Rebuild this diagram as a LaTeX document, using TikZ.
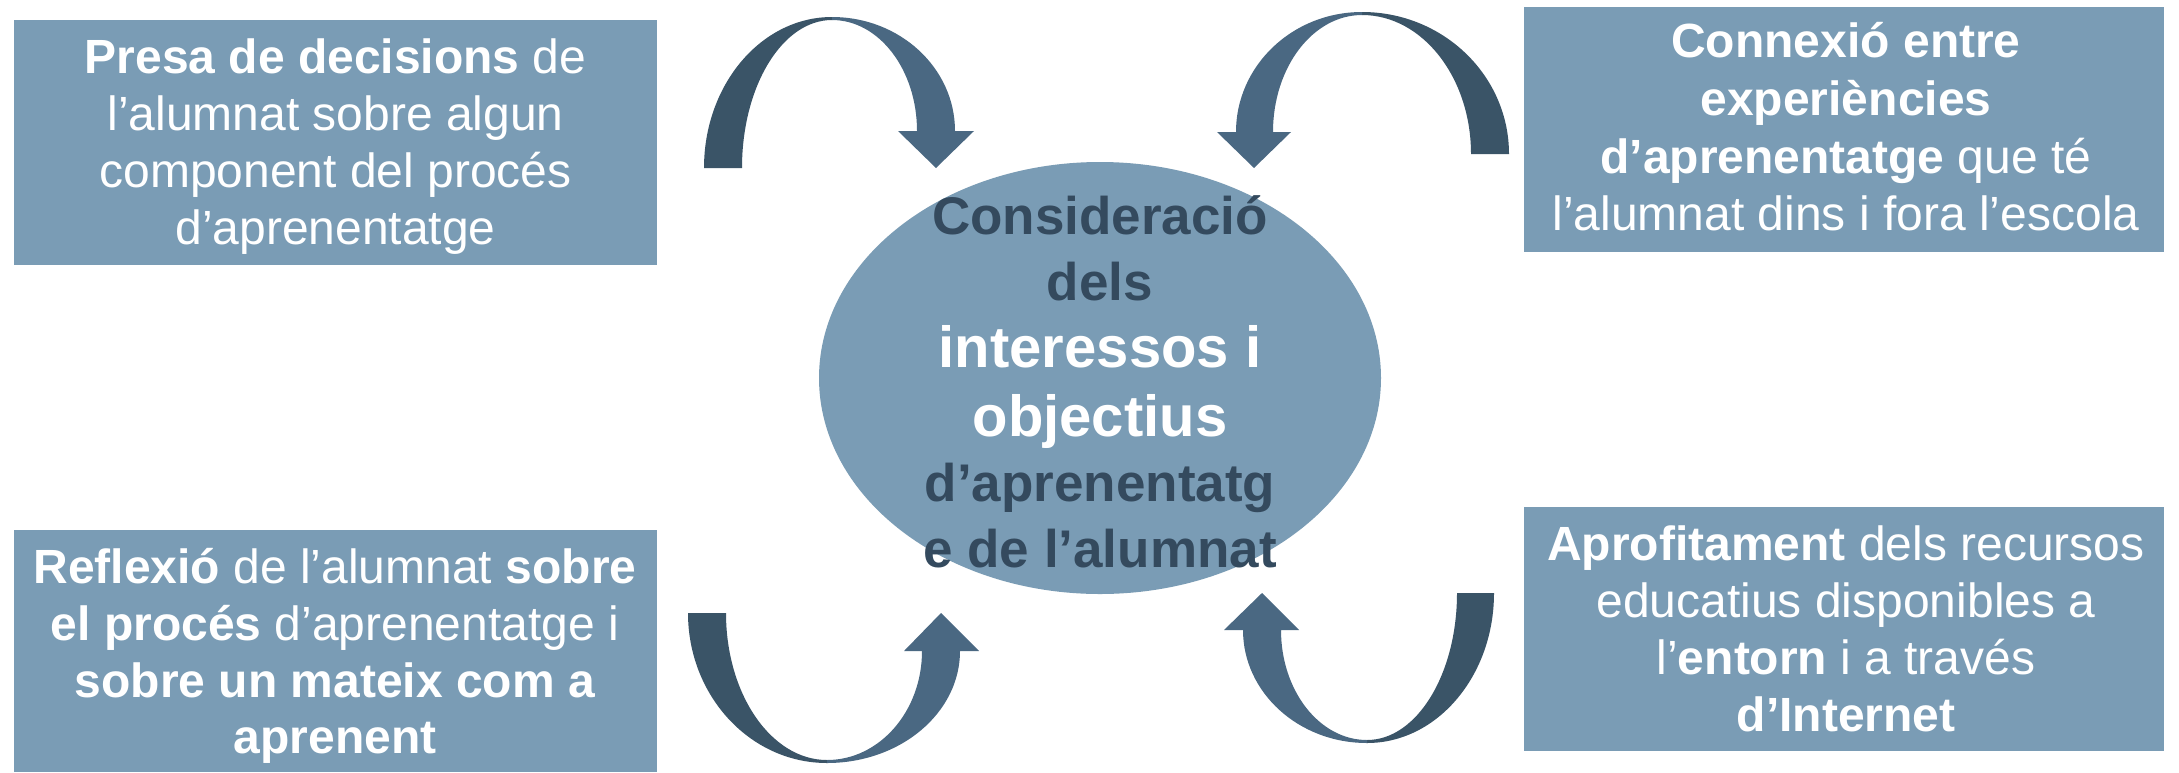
\documentclass[tikz,border=0pt]{standalone}
\usepackage{fontspec}
\setmainfont{Liberation Sans}
\usetikzlibrary{shapes.geometric}
\definecolor{boxfill}{HTML}{7A9CB5}
\definecolor{arrdark}{HTML}{3A5467}
\definecolor{arrlight}{HTML}{4A6882}
\definecolor{txtdark}{HTML}{344A5E}
\begin{document}
\begin{tikzpicture}[x=1pt,y=-1pt,
  infobox/.style={rectangle, fill=boxfill, inner sep=0pt},
  boxline/.style={anchor=base, inner sep=0pt, text=white, font=\fontsize{48}{57.5}\selectfont},
  hubline/.style={anchor=base, inner sep=0pt, font=\fontsize{53}{64}\selectfont\bfseries},
  hubbig/.style={anchor=base, inner sep=0pt, font=\fontsize{58}{64}\selectfont\bfseries},
  hubshape/.style={ellipse, fill=boxfill, inner sep=0pt, minimum width=562pt, minimum height=432pt}]
\useasboundingbox (0,0) rectangle (2179,772);
\fill[white] (0,0) rectangle (2179,772);

% boxes
\node[infobox, minimum width=643pt, minimum height=245pt] (tl) at (335.5,142) {};
\node[infobox, minimum width=640pt, minimum height=245pt] (tr) at (1844,129) {};
\node[infobox, minimum width=643pt, minimum height=242pt] (bl) at (335.5,651) {};
\node[infobox, minimum width=640pt, minimum height=244pt] (br) at (1844,628.5) {};

% box texts
\node[boxline] (tl1) at (335.5,73) {\textbf{Presa de decisions} de};
\node[boxline] (tl2) at (335.5,130) {l’alumnat sobre algun};
\node[boxline] (tl3) at (335.5,187) {component del procés};
\node[boxline] (tl4) at (335.5,244) {d’aprenentatge};

\node[boxline] (tr1) at (1846,57) {\textbf{Connexió entre}};
\node[boxline] (tr2) at (1846,115) {\textbf{experiències}};
\node[boxline] (tr3) at (1846,173) {\textbf{d’aprenentatge} que té};
\node[boxline] (tr4) at (1846,230) {l’alumnat dins i fora l’escola};

\node[boxline] (bl1) at (335,583) {\textbf{Reflexió} de l’alumnat \textbf{sobre}};
\node[boxline] (bl2) at (335,640) {\textbf{el procés} d’aprenentatge i};
\node[boxline] (bl3) at (335,697) {\textbf{sobre un mateix com a}};
\node[boxline] (bl4) at (335,753) {\textbf{aprenent}};

\node[boxline] (br1) at (1846,560) {\textbf{Aprofitament} dels recursos};
\node[boxline] (br2) at (1846,617) {educatius disponibles a};
\node[boxline] (br3) at (1846,674) {l’\textbf{entorn} i a través};
\node[boxline] (br4) at (1846,731) {\textbf{d’Internet}};

% central ellipse
\node[hubshape] (hub) at (1100,378) {};

% arrow top-left
\fill[arrdark] (704,168) arc[start angle=180, end angle=270, x radius=128, y radius=151]
  -- (832,20) arc[start angle=270, end angle=180, x radius=90, y radius=148] -- cycle;
\fill[arrlight] (832,17) arc[start angle=270, end angle=360, x radius=123, y radius=114]
  -- (974,131) -- (936,168) -- (898,131) -- (917,131)
  arc[start angle=0, end angle=-90, x radius=85, y radius=111] -- cycle;

% arrow top-right
\fill[arrdark] (1509,154) arc[start angle=0, end angle=-90, x radius=147, y radius=142]
  -- (1362,15) arc[start angle=-90, end angle=0, x radius=109, y radius=139] -- cycle;
\fill[arrlight] (1362,12) arc[start angle=270, end angle=180, x radius=126, y radius=120]
  -- (1217,132) -- (1254,168) -- (1291,132) -- (1273,132)
  arc[start angle=180, end angle=270, x radius=89, y radius=117] -- cycle;

% arrow bottom-left
\fill[arrdark] (688,613) arc[start angle=180, end angle=90, x radius=139, y radius=150]
  -- (827,760) arc[start angle=90, end angle=180, x radius=101, y radius=147] -- cycle;
\fill[arrlight] (827,763) arc[start angle=90, end angle=0, x radius=133, y radius=112]
  -- (979,651) -- (941,613) -- (904,651) -- (922,651)
  arc[start angle=0, end angle=90, x radius=95, y radius=109] -- cycle;

% arrow bottom-right
\fill[arrdark] (1494,593) arc[start angle=0, end angle=90, x radius=127, y radius=150]
  -- (1367,740) arc[start angle=90, end angle=0, x radius=90, y radius=147] -- cycle;
\fill[arrlight] (1367,743) arc[start angle=90, end angle=180, x radius=124, y radius=113]
  -- (1224,630) -- (1262,593) -- (1299,630) -- (1281,630)
  arc[start angle=180, end angle=90, x radius=86, y radius=110] -- cycle;

% hub text
\node[hubline, text=txtdark] (h1) at (1100,234) {Consideració};
\node[hubline, text=txtdark] (h2) at (1100,300) {dels};
\node[hubbig, text=white] (h3) at (1100,367) {interessos i};
\node[hubbig, text=white] (h4) at (1100,436) {objectius};
\node[hubline, text=txtdark] (h5) at (1100,501) {d’aprenentatg};
\node[hubline, text=txtdark] (h6) at (1100,567) {e de l’alumnat};
\end{tikzpicture}
\end{document}
